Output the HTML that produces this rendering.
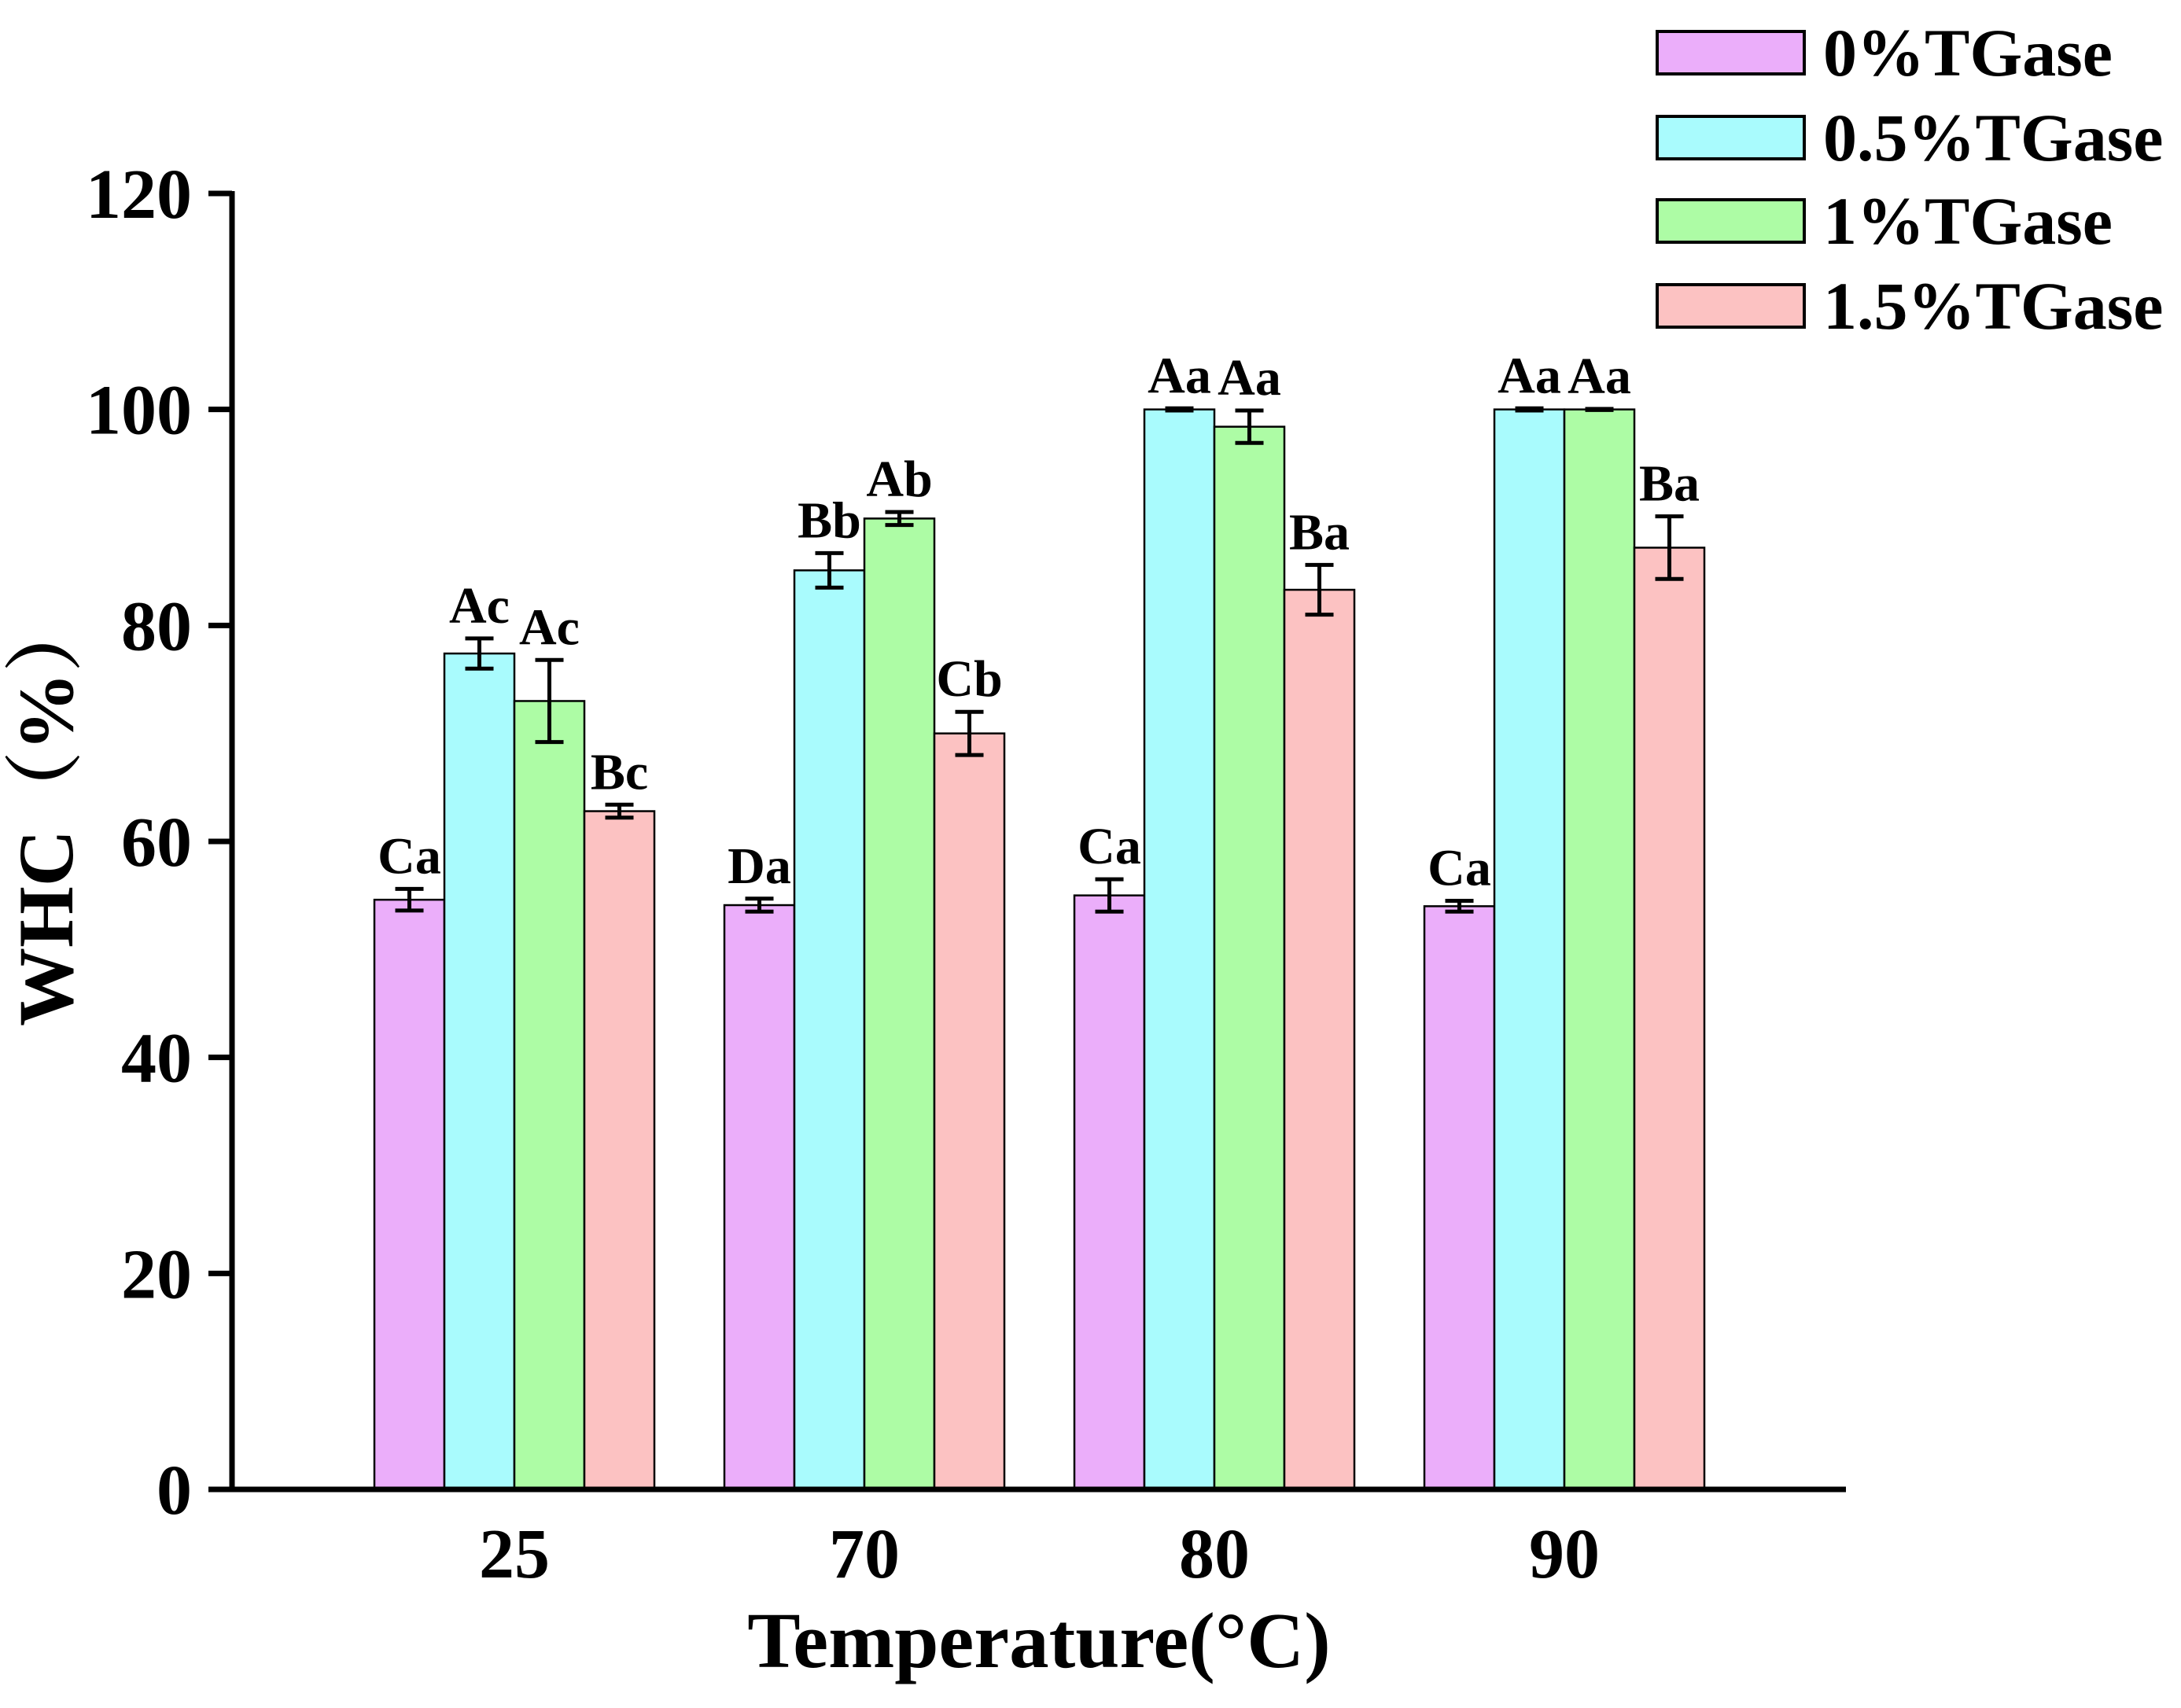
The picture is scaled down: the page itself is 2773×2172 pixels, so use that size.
<!DOCTYPE html>
<html><head><meta charset="utf-8"><style>
html,body{margin:0;padding:0;background:#fff}
svg{display:block}
text{font-family:"Liberation Serif","Noto Serif CJK SC",serif;font-weight:bold;fill:#000}
</style></head><body>
<svg id="chart" width="2773" height="2172" viewBox="0 0 2773 2172" xmlns="http://www.w3.org/2000/svg">
<g id="bars"></g>
<g id="axes"></g>
<g id="legend"></g>
<text x="1321" y="2120" font-size="101" text-anchor="middle">Temperature(°C)</text>
<text transform="translate(92,1030) rotate(-90)" font-size="100" text-anchor="middle">WHC（%）</text>
</svg>
<script>
const categories = ["25","70","80","90"];
const seriesNames = ["0%TGase","0.5%TGase","1%TGase","1.5%TGase"];
const s0 = [54.6,54.1,55.0,54.0];
const s1 = [77.4,85.1,100,100];
const s2 = [73.0,89.9,98.4,100];
const s3 = [62.8,70.0,83.3,87.2];
const e0 = [1.0,0.6,1.5,0.5];
const e1 = [1.4,1.6,0.1,0.1];
const e2 = [3.8,0.6,1.5,0.05];
const e3 = [0.6,2.0,2.3,2.9];
const lab0 = ["Ca","Da","Ca","Ca"];
const lab1 = ["Ac","Bb","Aa","Aa"];
const lab2 = ["Ac","Ab","Aa","Aa"];
const lab3 = ["Bc","Cb","Ba","Ba"];
const yTicks = [0,20,40,60,80,100,120];

const series=[s0,s1,s2,s3], errs=[e0,e1,e2,e3], labs=[lab0,lab1,lab2,lab3];
const colors=["#ebaefa","#a9fbfd","#adfca5","#fcc2c2"];
const NS="http://www.w3.org/2000/svg";
const X0=295, X1=2347, Y0=1894, Ytop=246;
const y=v=>Y0-(v/120)*(Y0-Ytop);
const groupW=445, barW=89, firstCenter=654;
const xc=i=>firstCenter+i*groupW;
function mk(tag,attrs,parent){const e=document.createElementNS(NS,tag);for(const k in attrs)e.setAttribute(k,attrs[k]);parent.appendChild(e);return e;}
const gb=document.getElementById('bars'), ga=document.getElementById('axes'), gl=document.getElementById('legend');
categories.forEach((c,i)=>{
  series.forEach((s,j)=>{
    const x=xc(i)-2*barW+j*barW;
    const r=mk('rect',{x:x,y:y(s[i]),width:barW,height:Y0-y(s[i]),fill:colors[j],stroke:'#000','stroke-width':2.5},gb);
    
    
    const cx=x+barW/2, top=y(s[i]+errs[j][i]), bot=y(s[i]-errs[j][i]);
    const eb=mk('path',{d:`M${cx},${top}V${bot}M${cx-18},${top}H${cx+18}M${cx-18},${bot}H${cx+18}`,stroke:'#000','stroke-width':5,fill:'none'},gb);
    
    
    const t=mk('text',{x:cx,y:top-20,'font-size':66,'text-anchor':'middle'},gb);
    t.textContent=labs[j][i];
    
    
  });
  const tl=mk('text',{x:xc(i),y:2006,'font-size':90,'text-anchor':'middle'},ga);
  tl.textContent=c;
  
  
});
const yl=mk('line',{x1:X0,y1:Ytop-3,x2:X0,y2:Y0+3,stroke:'#000','stroke-width':7},ga);


const xl=mk('line',{x1:X0-3,y1:Y0,x2:X1,y2:Y0,stroke:'#000','stroke-width':7},ga);


yTicks.forEach(v=>{
  const tk=mk('line',{x1:X0-30,y1:y(v),x2:X0,y2:y(v),stroke:'#000','stroke-width':7},ga);
  
  
  const t=mk('text',{x:244,y:y(v)+31,'font-size':90,'text-anchor':'end'},ga);
  t.textContent=v;
  
  
});
const ly=[67,175,281,389];
seriesNames.forEach((n,j)=>{
  const r=mk('rect',{x:2107,y:ly[j]-27,width:187,height:54,fill:colors[j],stroke:'#000','stroke-width':4},gl);
  
  
  const t=mk('text',{x:2318,y:ly[j]+29,'font-size':86},gl);
  t.textContent=n;
  
  
});
</script>
</body></html>
